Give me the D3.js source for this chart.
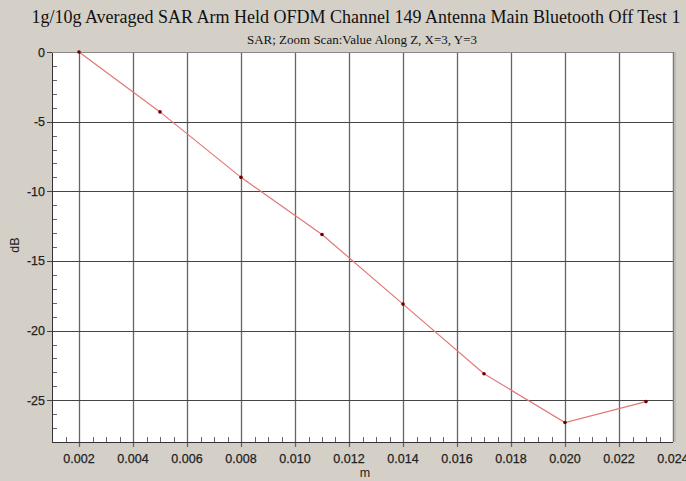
<!DOCTYPE html>
<html><head><meta charset="utf-8">
<script src="https://cdn.jsdelivr.net/npm/d3@7"></script>
<style>html,body{margin:0;padding:0;background:#d4d0c8;}svg{display:block;}</style>
</head><body><svg id="c" width="686" height="481"></svg>
<script>
const titleText = "1g/10g Averaged SAR Arm Held OFDM Channel 149 Antenna Main Bluetooth Off Test 1";
const subtitleText = "SAR; Zoom Scan:Value Along Z, X=3, Y=3";
const xValues = [0.002, 0.005, 0.008, 0.011, 0.014, 0.017, 0.020, 0.023];
const yValues = [0, -4.3, -9.0, -13.1, -18.1, -23.1, -26.6, -25.1];
const xTicks = [0.002, 0.004, 0.006, 0.008, 0.010, 0.012, 0.014, 0.016, 0.018, 0.020, 0.022, 0.024];
const yTicks = [0, -5, -10, -15, -20, -25];
const xLabel = "m", yLabel = "dB";

const svg = d3.select("#c");
const L = 52, R = 673, T = 52, B = 442;
const x = d3.scaleLinear().domain([0.001, 0.024]).range([L, R]);
const y = d3.scaleLinear().domain([-28, 0]).range([B, T]);

svg.append("rect").attr("width",686).attr("height",481).attr("fill","#d4d0c8");
svg.append("rect").attr("x",L).attr("y",T).attr("width",R-L).attr("height",B-T).attr("fill","#fff");

const g = svg.append("g");
g.selectAll(".vx").data(xTicks.filter(d=>d<0.0239)).join("line")
 .attr("x1",d=>Math.round(x(d))+0.5).attr("x2",d=>Math.round(x(d))+0.5)
 .attr("y1",T).attr("y2",B+5).attr("stroke","#666").attr("stroke-width",1.3);
g.selectAll(".hy").data(yTicks.filter(d=>d<0)).join("line")
 .attr("y1",d=>Math.round(y(d))+0.5).attr("y2",d=>Math.round(y(d))+0.5)
 .attr("x1",L-5).attr("x2",R).attr("stroke","#444").attr("stroke-width",1.1);
const xMinor = d3.range(3, 48).map(i=>i*0.0005).filter(v=>Math.abs(v/0.002-Math.round(v/0.002))>1e-6 && v<0.0239);
g.selectAll(".mx").data(xMinor).join("line")
 .attr("x1",d=>Math.round(x(d))+0.5).attr("x2",d=>Math.round(x(d))+0.5)
 .attr("y1",B-5).attr("y2",B).attr("stroke","#666");
const yMinor = d3.range(-27, 0).filter(v=>v%5!==0);
g.selectAll(".my").data(yMinor).join("line")
 .attr("y1",d=>Math.round(y(d))+0.5).attr("y2",d=>Math.round(y(d))+0.5)
 .attr("x1",L).attr("x2",L+5).attr("stroke","#666");
g.append("line").attr("x1",L-5).attr("x2",L).attr("y1",T+0.5).attr("y2",T+0.5).attr("stroke","#444");

svg.append("line").attr("x1",L+0.5).attr("x2",L+0.5).attr("y1",T).attr("y2",B).attr("stroke","#333");
svg.append("line").attr("x1",L).attr("x2",R).attr("y1",B+0.5).attr("y2",B+0.5).attr("stroke","#333");
svg.append("line").attr("x1",L).attr("x2",R).attr("y1",T+0.5).attr("y2",T+0.5).attr("stroke","#888");
svg.append("line").attr("x1",R+0.5).attr("x2",R+0.5).attr("y1",T).attr("y2",B).attr("stroke","#777").attr("stroke-width",1.5);
svg.append("line").attr("x1",R+2.5).attr("x2",R+2.5).attr("y1",T).attr("y2",B).attr("stroke","#bbb");

const sans = "Liberation Sans, Arial, sans-serif";
svg.selectAll(".xl").data(xTicks).join("text")
 .attr("x",d=>x(d)).attr("y",463).attr("text-anchor","middle")
 .attr("font-family",sans).attr("font-size",12.5).attr("fill","#222")
 .attr("stroke","#222").attr("stroke-width",0.25)
 .text(d=>d.toFixed(3));
svg.selectAll(".yl").data(yTicks).join("text")
 .attr("x",45).attr("y",d=>y(d)+4.5).attr("text-anchor","end")
 .attr("font-family",sans).attr("font-size",12.5).attr("fill","#222")
 .attr("stroke","#222").attr("stroke-width",0.25)
 .text(d=>d);
svg.append("text").attr("x",365).attr("y",477).attr("text-anchor","middle")
 .attr("font-family",sans).attr("font-size",12.5).attr("fill","#222").text(xLabel);
svg.append("text").attr("transform","translate(19,245) rotate(-90)").attr("text-anchor","middle")
 .attr("font-family",sans).attr("font-size",12.5).attr("fill","#222").text(yLabel);

svg.append("text").attr("x",356).attr("y",23).attr("text-anchor","middle")
 .attr("font-family","Liberation Serif, Times New Roman, serif").attr("font-size",18).attr("fill","#111").text(titleText);
svg.append("text").attr("x",362).attr("y",44).attr("text-anchor","middle")
 .attr("font-family","Liberation Serif, Times New Roman, serif").attr("font-size",13).attr("fill","#111").text(subtitleText);

const pts = xValues.map((v,i)=>[v,yValues[i]]);
svg.append("path").datum(pts).attr("fill","none").attr("stroke","#e07878").attr("stroke-width",1.2)
 .attr("d",d3.line().x(d=>x(d[0])).y(d=>y(d[1])));
svg.selectAll(".pt").data(pts).join("circle").attr("cx",d=>x(d[0])).attr("cy",d=>y(d[1])).attr("r",1.8).attr("fill","#700000");
</script></body></html>
